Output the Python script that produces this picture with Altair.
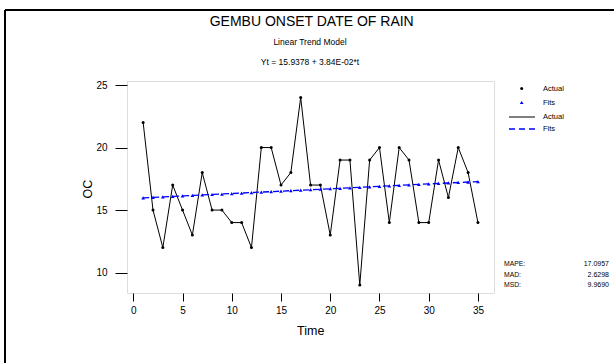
import altair as alt
import pandas as pd

# ---- data ----
time = list(range(1, 36))
actual = [22, 15, 12, 17, 15, 13, 18, 15, 15, 14,
          14, 12, 20, 20, 17, 18, 24, 17, 17, 13,
          19, 19, 9, 19, 20, 14, 20, 19, 14, 14,
          19, 16, 20, 18, 14]
fits = [15.9762, 16.0146, 16.0530, 16.0914, 16.1298, 16.1682, 16.2066, 16.2450, 16.2834, 16.3218,
        16.3602, 16.3986, 16.4370, 16.4754, 16.5138, 16.5522, 16.5906, 16.6290, 16.6674, 16.7058,
        16.7442, 16.7826, 16.8210, 16.8594, 16.8978, 16.9362, 16.9746, 17.0130, 17.0514, 17.0898,
        17.1282, 17.1666, 17.2050, 17.2434, 17.2818]
x_ticks = [0, 5, 10, 15, 20, 25, 30, 35]
y_ticks = [10, 15, 20, 25]
stat_names = ["MAPE:", "MAD:", "MSD:"]
stat_values = ["17.0957", "2.6298", "9.9690"]
title_text = "GEMBU ONSET DATE OF RAIN"
subtitle_text = "Linear Trend Model"
equation_text = "Yt = 15.9378 + 3.84E-02*t"

df = pd.DataFrame({"Time": time, "Actual": actual, "Fits": fits})

SANS = "Liberation Sans, Arial, sans-serif"

W, H = 367, 212
xs = alt.Scale(domain=[-0.64, 36.63], nice=False, zero=False)
ys = alt.Scale(domain=[8.37, 25.32], nice=False, zero=False)

xaxis = alt.Axis(values=x_ticks, title=None, grid=False, domain=False, tickSize=8,
                 tickColor="black", labelFontSize=10, labelColor="black",
                 labelPadding=4, labelFont=SANS)
yaxis = alt.Axis(values=y_ticks, title=None, grid=False, domain=False, tickSize=12,
                 tickColor="black", labelFontSize=10, labelColor="black",
                 labelPadding=8, labelFont=SANS)

base = alt.Chart(df)
actual_line = base.mark_line(color="black", strokeWidth=1).encode(
    x=alt.X("Time:Q", scale=xs, axis=xaxis),
    y=alt.Y("Actual:Q", scale=ys, axis=yaxis),
)
actual_pts = base.mark_point(color="black", filled=True, size=9, opacity=1).encode(
    x=alt.X("Time:Q", scale=xs), y=alt.Y("Actual:Q", scale=ys))
fits_line = base.mark_line(color="#0000ff", strokeWidth=1.3, strokeDash=[6, 4]).encode(
    x=alt.X("Time:Q", scale=xs), y=alt.Y("Fits:Q", scale=ys))
fits_pts = base.mark_point(color="#0000ff", filled=True, shape="triangle-up", size=14, opacity=1).encode(
    x=alt.X("Time:Q", scale=xs), y=alt.Y("Fits:Q", scale=ys))

# ---- annotations (pixel positions relative to plot area) ----
one = pd.DataFrame({"k": [0]})
ann = alt.Chart(one)

def txt(s, x, y, size, font=SANS, align="center", baseline="middle", angle=0):
    kw = dict(text=s, fontSize=size, font=font, align=align, baseline=baseline, color="black")
    if angle:
        kw["angle"] = angle
    return ann.mark_text(**kw).encode(x=alt.value(x), y=alt.value(y))

layers = [
    txt(title_text, 184.7, -59, 14),
    txt(subtitle_text, 183, -39, 8.5),
    txt(equation_text, 183, -19.5, 8.5),
    txt("OC", -39, 108, 12.5, angle=270),
    txt("Time", 183.7, 249.5, 12.5),
]

# legend
leg_x_txt = 416
layers += [
    ann.mark_point(color="black", filled=True, size=9, opacity=1).encode(x=alt.value(394.7), y=alt.value(7.5)),
    txt("Actual", leg_x_txt, 7.5, 7.5, align="left"),
    ann.mark_point(color="#0000ff", filled=True, shape="triangle-up", size=14, opacity=1).encode(x=alt.value(394.7), y=alt.value(21.5)),
    txt("Fits", leg_x_txt, 21.5, 7.5, align="left"),
    ann.mark_rule(color="black", strokeWidth=1).encode(x=alt.value(382), x2=alt.value(408), y=alt.value(36)),
    txt("Actual", leg_x_txt, 36, 7.5, align="left"),
    ann.mark_rule(color="#0000ff", strokeWidth=1.3, strokeDash=[6, 4]).encode(x=alt.value(382), x2=alt.value(408), y=alt.value(48)),
    txt("Fits", leg_x_txt, 48, 7.5, align="left"),
]

# stats
for i, (n, v) in enumerate(zip(stat_names, stat_values)):
    yy = [183, 193.5, 204][i]
    layers += [txt(n, 377, yy, 6.8, align="left"), txt(v, 482, yy, 7, align="right")]

# outer border (top and left lines)
layers += [
    ann.mark_rule(color="black", strokeWidth=2).encode(x=alt.value(-122), x2=alt.value(490), y=alt.value(-71)),
    ann.mark_rule(color="black", strokeWidth=2).encode(x=alt.value(-122), y=alt.value(-71), y2=alt.value(285)),
]

chart = alt.layer(actual_line, fits_line, actual_pts, fits_pts, *layers).properties(
    width=W, height=H,
    autosize=alt.AutoSizeParams(type="none"),
    padding={"left": 127, "top": 81, "right": 120, "bottom": 70},
).configure_view(stroke="#222", strokeWidth=1.5).configure(background="white")

chart.save("out.html", embed_options={"renderer": "svg", "actions": False})
